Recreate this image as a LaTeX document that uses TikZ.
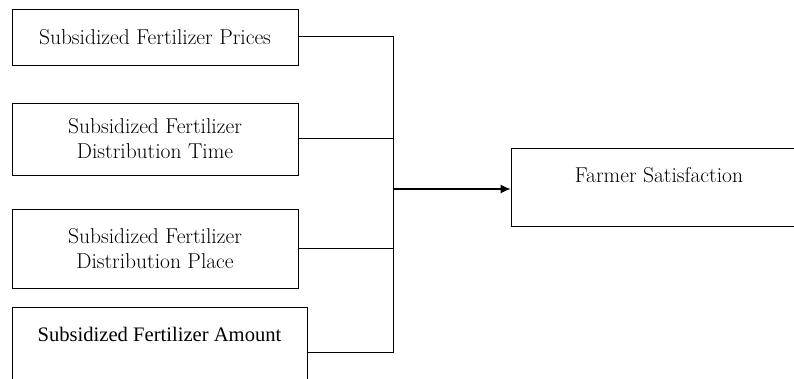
\documentclass[tikz,border=0pt]{standalone}
\usepackage{fontspec}
\usepackage{tikz}
\usetikzlibrary{arrows.meta}
\newfontfamily\tnr{Liberation Serif}

\tikzset{
	factor/.style={draw, line width=0.8pt, minimum width=286pt, align=center, inner sep=0pt,
		font=\fontsize{21.5}{25}\selectfont},
	link/.style={line width=1pt},
	push/.style={line width=1.2pt, -{Latex[length=10pt,width=9pt]}}
}

\begin{document}
\begin{tikzpicture}[x=1pt,y=1pt]
	\clip (0,0) rectangle (794,378);
	\node[factor, minimum height=56pt] (price) at (155,341) {Subsidized Fertilizer Prices};
	\node[factor, minimum height=72pt] (time) at (155,239) {Subsidized Fertilizer\\Distribution Time};
	\node[factor, minimum height=79pt] (place) at (155,129.5) {Subsidized Fertilizer\\Distribution Place};
	\node[factor, minimum width=295pt, text height=34pt, text depth=56pt,
		font=\tnr\fontsize{20.6}{25}\selectfont] (amount) at (159.5,26) {Subsidized Fertilizer Amount};
	\node[factor, minimum width=296pt, text height=34pt, text depth=44pt] (farmer) at (659,191) {Farmer Satisfaction};
	\coordinate (hub) at (393.5,189);
	\draw[link] (price.east) -| (hub) |- (amount.east);
	\draw[link] (time.east) -- (time.east -| hub);
	\draw[link] (place.east) -- (place.east -| hub);
	\draw[push] (hub) -- (hub -| farmer.west);
\end{tikzpicture}
\end{document}
